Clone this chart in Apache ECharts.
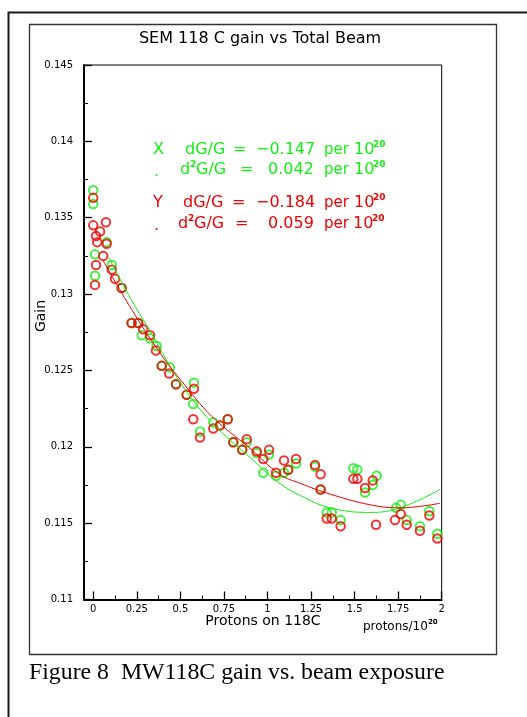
<!DOCTYPE html>
<html><head><meta charset="utf-8">
<script src="https://cdn.jsdelivr.net/npm/echarts/dist/echarts.min.js"></script>
<style>html,body{margin:0;padding:0;background:#fff;}#c{width:527px;height:717px;}</style>
</head><body><div id="c"></div>
<script>
// ---- data ----
const chartTitle = 'SEM 118 C gain vs Total Beam';
const xTickValues = [0, 0.25, 0.5, 0.75, 1, 1.25, 1.5, 1.75, 2];
const xTickLabels = ['0', '0.25', '0.5', '0.75', '1', '1.25', '1.5', '1.75', '2'];
const xMinorTicks = [0.125, 0.375, 0.625, 0.875, 1.125, 1.375, 1.625, 1.875];
const yTickValues = [0.11, 0.115, 0.12, 0.125, 0.13, 0.135, 0.14, 0.145];
const yTickLabels = ['0.11', '0.115', '0.12', '0.125', '0.13', '0.135', '0.14', '0.145'];

// X plane (green) measurements: [protons/1e20, gain]
const xPlanePoints = [
  [0.0,0.1368],[0.0,0.1359],[0.077,0.1334],[0.010,0.1326],[0.106,0.1319],[0.010,0.1312],[0.163,0.1304],
  [0.220,0.1281],[0.258,0.1281],[0.278,0.1273],[0.326,0.1271],[0.364,0.1266],[0.393,0.1253],[0.440,0.1252],
  [0.475,0.1241],[0.536,0.1234],[0.578,0.1242],[0.574,0.1228],[0.613,0.1210],[0.689,0.1216],[0.727,0.1214],
  [0.772,0.1218],[0.804,0.1203],[0.855,0.1198],[0.881,0.1203],[0.938,0.1196],[0.976,0.1183],[1.009,0.1195],
  [1.049,0.1181],[1.095,0.1183],[1.119,0.1185],[1.164,0.1189],[1.273,0.1187],[1.305,0.1172],[1.340,0.1157],
  [1.369,0.1157],[1.420,0.1152],[1.493,0.1186],[1.516,0.1185],[1.560,0.1170],[1.604,0.1175],[1.627,0.1181],
  [1.738,0.1160],[1.765,0.1162],[1.799,0.1152],[1.875,0.1148],[1.929,0.1158],[1.975,0.1143]
];
// Y plane (red) measurements
const yPlanePoints = [
  [0.0,0.1363],[0.0,0.1345],[0.073,0.1347],[0.039,0.1341],[0.016,0.1338],[0.023,0.1334],[0.077,0.1333],
  [0.057,0.1325],[0.016,0.1319],[0.106,0.1316],[0.125,0.1310],[0.010,0.1306],[0.163,0.1304],[0.220,0.1281],
  [0.258,0.1281],[0.287,0.1277],[0.326,0.1273],[0.360,0.1263],[0.393,0.1253],[0.436,0.1248],[0.475,0.1241],
  [0.536,0.1234],[0.578,0.1238],[0.574,0.1218],[0.613,0.1206],[0.689,0.1212],[0.727,0.1214],[0.772,0.1218],
  [0.804,0.1203],[0.855,0.1198],[0.881,0.1205],[0.938,0.1197],[0.976,0.1192],[1.009,0.1198],[1.049,0.1183],
  [1.095,0.1191],[1.119,0.1185],[1.164,0.1192],[1.273,0.1188],[1.305,0.1182],[1.305,0.1172],[1.340,0.1153],
  [1.369,0.1153],[1.420,0.1148],[1.493,0.1179],[1.516,0.1179],[1.560,0.1173],[1.604,0.1178],[1.623,0.1149],
  [1.732,0.1152],[1.765,0.1156],[1.799,0.1149],[1.875,0.1145],[1.929,0.1155],[1.975,0.1140]
];
// fitted curves
const xPlaneFit = [
  [0.090,0.1324],[0.200,0.1300],[0.330,0.1275],[0.500,0.1242],[0.680,0.1216],[0.900,0.1193],
  [1.070,0.1176],[1.190,0.1168],[1.360,0.1160],[1.590,0.1157],[1.760,0.1160],[1.990,0.1172]
];
const yPlaneFit = [
  [0.056,0.1322],[0.220,0.1290],[0.380,0.1262],[0.500,0.1244],[0.680,0.1220],[0.900,0.1199],
  [1.070,0.1182],[1.190,0.1176],[1.360,0.1169],[1.590,0.1162],[1.760,0.1160],[1.990,0.1163]
];
const xLabel = 'Protons on 118C';
const yLabel = 'Gain';
const caption = 'Figure 8  MW118C gain vs. beam exposure';

const GREEN = '#14ee14';
const RED = '#f00000';
const FONT = 'DejaVu Sans';

const chart = echarts.init(document.getElementById('c'), null, {renderer: 'canvas'});

function txt(x, y, text, size, color, opts) {
  return {
    type: 'text', x: x, y: y, silent: true,
    style: Object.assign({text: text, fill: color, font: size + 'px "' + FONT + '"',
      textAlign: 'left', textVerticalAlign: 'middle'}, (opts || {}))
  };
}
function sup(x, y, text, size, color) {
  return txt(x, y, text, size, color, {font: 'bold ' + size + 'px "' + FONT + '"'});
}

const graphics = [
  // outer page border (runs off the right and bottom)
  {type: 'polyline', shape: {points: [[8.5, 730], [8.5, 12.5], [540, 12.5]]}, style: {stroke: '#1a1a1a', lineWidth: 2, fill: null}},
  // inner figure frame
  {type: 'rect', shape: {x: 29.5, y: 24.5, width: 467, height: 630}, style: {stroke: '#333', lineWidth: 1.3, fill: null}},
  txt(260, 39, chartTitle, 16, '#000', {textAlign: 'center'}),
  {type: 'text', x: 41, y: 316, rotation: Math.PI / 2, silent: true,
    style: {text: yLabel, fill: '#000', font: '14px "' + FONT + '"', textAlign: 'center', textVerticalAlign: 'middle'}},
  txt(263, 621, xLabel, 14, '#000', {textAlign: 'center'}),
  txt(363, 627, 'protons/10', 12, '#000'),
  sup(428, 622, '20', 7, '#000'),
  {type: 'text', x: 29, y: 673, silent: true,
    style: {text: caption, fill: '#000', font: '23.8px "Liberation Serif"', textAlign: 'left', textVerticalAlign: 'middle'}},
  // fit annotations - X plane (green)
  txt(153, 150, 'X', 16, GREEN),
  txt(185, 150, 'dG/G', 16, GREEN),
  txt(233, 150, '=', 16, GREEN),
  txt(256, 150, '\u22120.147', 16, GREEN),
  txt(324, 150, 'per', 15, GREEN),
  txt(354, 150, '10', 16, GREEN),
  sup(373, 145, '20', 9, GREEN),
  txt(154, 172, '.', 16, GREEN),
  txt(180, 170, 'd', 16, GREEN),
  sup(190, 165, '2', 9, GREEN),
  txt(196, 170, 'G/G', 16, GREEN),
  txt(240, 170, '=', 16, GREEN),
  txt(268, 170, '0.042', 16, GREEN),
  txt(324, 170, 'per', 15, GREEN),
  txt(354, 170, '10', 16, GREEN),
  sup(373, 165, '20', 9, GREEN),
  // Y plane (red)
  txt(153, 203, 'Y', 16, RED),
  txt(183, 203, 'dG/G', 16, RED),
  txt(232, 203, '=', 16, RED),
  txt(256, 203, '\u22120.184', 16, RED),
  txt(324, 203, 'per', 15, RED),
  txt(354, 203, '10', 16, RED),
  sup(373, 198, '20', 9, RED),
  txt(154, 226, '.', 16, RED),
  txt(178, 224, 'd', 16, RED),
  sup(188, 219, '2', 9, RED),
  txt(194, 224, 'G/G', 16, RED),
  txt(235, 224, '=', 16, RED),
  txt(268, 224, '0.059', 16, RED),
  txt(324, 224, 'per', 15, RED),
  txt(353, 224, '10', 16, RED),
  sup(372, 219, '20', 9, RED)
];

const X_MIN = -0.053, X_MAX = 2;

const option = {
  backgroundColor: '#fff',
  animation: false,
  grid: {left: 84, right: 85.3, top: 65, bottom: 117.5, show: true, borderColor: '#000', borderWidth: 1, backgroundColor: 'transparent'},
  xAxis: [
    {type: 'value', min: X_MIN, max: X_MAX, position: 'bottom',
      axisLine: {show: true, onZero: false, lineStyle: {color: '#000', width: 2}},
      axisTick: {show: true, inside: true, length: 8, customValues: xTickValues, lineStyle: {color: '#000', width: 1.3}},
      axisLabel: {show: true, customValues: xTickValues, formatter: function (v) { const i = xTickValues.indexOf(+v.toFixed(3)); return i >= 0 ? xTickLabels[i] : ''; },
        color: '#000', fontFamily: FONT, fontSize: 10, margin: 5},
      splitLine: {show: false}},
    {type: 'value', min: X_MIN, max: X_MAX, position: 'bottom',
      axisLine: {show: false},
      axisTick: {show: true, inside: true, length: 4, customValues: xMinorTicks, lineStyle: {color: '#000', width: 1}},
      axisLabel: {show: false}, splitLine: {show: false}}
  ],
  yAxis: {type: 'value', min: 0.11, max: 0.145, interval: 0.005,
    axisLine: {show: true, onZero: false, lineStyle: {color: '#000', width: 2}},
    axisTick: {show: true, inside: true, length: 8, lineStyle: {color: '#000', width: 1.3}},
    minorTick: {show: true, splitNumber: 2, length: 4, lineStyle: {color: '#000', width: 1}},
    axisLabel: {color: '#000', fontFamily: FONT, fontSize: 10, margin: 11,
      formatter: function (v) { for (let i = 0; i < yTickValues.length; i++) { if (Math.abs(yTickValues[i] - v) < 1e-6) return yTickLabels[i]; } return ''; }},
    splitLine: {show: false}},
  series: [
    {name: 'X', type: 'scatter', data: xPlanePoints, symbol: 'circle', symbolSize: 8.5,
      itemStyle: {color: 'rgba(0,0,0,0)', borderColor: GREEN, borderWidth: 2}, z: 2},
    {name: 'Y', type: 'scatter', data: yPlanePoints, symbol: 'circle', symbolSize: 8.5,
      itemStyle: {color: 'rgba(0,0,0,0)', borderColor: RED, borderWidth: 2}, z: 3},
    {name: 'X fit', type: 'line', data: xPlaneFit, smooth: 0.4, showSymbol: false, symbol: 'none',
      lineStyle: {color: GREEN, width: 1}, z: 4},
    {name: 'Y fit', type: 'line', data: yPlaneFit, smooth: 0.4, showSymbol: false, symbol: 'none',
      lineStyle: {color: RED, width: 1}, z: 5}
  ],
  graphic: graphics
};
chart.setOption(option);
</script></body></html>
